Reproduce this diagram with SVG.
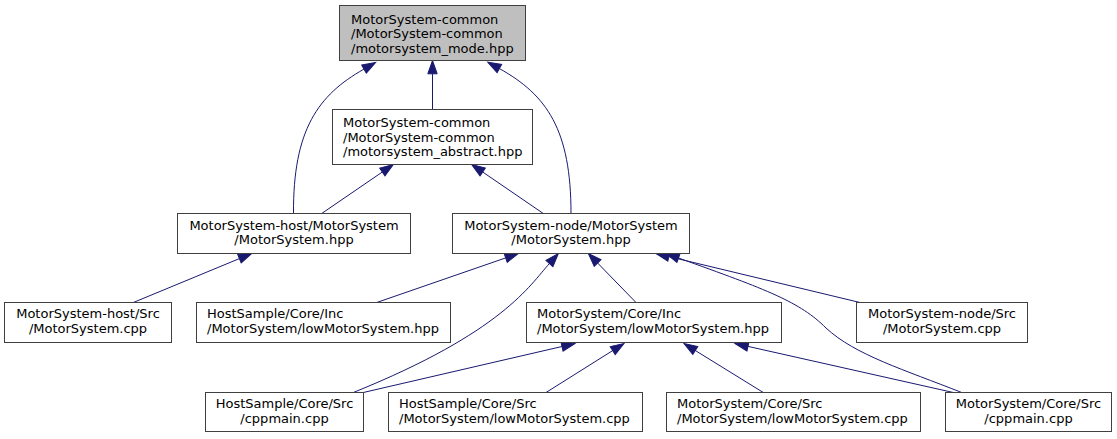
<svg xmlns="http://www.w3.org/2000/svg" width="1117" height="439" viewBox="0 0 1117 439">
<style>
.n rect{fill:#ffffff;stroke:#404040;stroke-width:1}
.n.root rect{fill:#bfbfbf;stroke:#404040}
.n text{font-family:"DejaVu Sans",sans-serif;font-size:13px;fill:#000000}
.c{text-anchor:middle}
.e path{fill:none;stroke:#191970;stroke-width:1;marker-end:url(#ah)}
</style>
<defs>
<marker id="ah" markerUnits="userSpaceOnUse" markerWidth="14" markerHeight="10" refX="0" refY="5" orient="auto" viewBox="0 0 14 10" overflow="visible">
<path d="M0,0.3 L13.3,5 L0,9.7 Z" fill="#191970" stroke="#191970" stroke-width="1"/>
</marker>
</defs>
<rect width="1117" height="439" fill="#ffffff"/>
<g id="edges" class="e">
<path d="M432.5,109.5 L432.5,73.8"/>
<path d="M293.5,213.5 C293,130 318,95 364,69.1"/>
<path d="M571,213.5 C571,130 547,95 499.4,68.6"/>
<path d="M321.7,213.5 L382.3,172"/>
<path d="M543.3,213.5 L482.7,172"/>
<path d="M133.3,302.5 L239.4,258.6"/>
<path d="M376.7,302.5 L505.7,257.9"/>
<path d="M353.3,392.5 C503,332 530,285 549.4,263.5"/>
<path d="M636,302.5 L597.6,263"/>
<path d="M860,302.5 L668.9,256.6"/>
<path d="M961.7,392.5 C905,370 855,355 826,328 C800,302 768,290 678.5,258"/>
<path d="M363.3,392.5 L562,346.5"/>
<path d="M546,392.5 L612.7,350.6"/>
<path d="M763.3,392.5 L695.3,350.5"/>
<path d="M953.3,392.5 L748,346.4"/>
</g>
<g id="node_mode" class="n root">
<rect x="339.5" y="5.5" width="186" height="55"/>
<text x="351" y="23.5">MotorSystem-common</text>
<text x="351" y="38.2">/MotorSystem-common</text>
<text x="351" y="52.8">/motorsystem_mode.hpp</text>
</g>
<g id="node_abstract" class="n">
<rect x="332.5" y="109.5" width="200" height="55"/>
<text x="343" y="127">MotorSystem-common</text>
<text x="343" y="141.7">/MotorSystem-common</text>
<text x="343" y="156.3">/motorsystem_abstract.hpp</text>
</g>
<g id="node_host_hpp" class="n">
<rect x="177.5" y="213.5" width="233" height="40"/>
<text class="c" x="294" y="229.5">MotorSystem-host/MotorSystem</text>
<text class="c" x="294" y="244.2">/MotorSystem.hpp</text>
</g>
<g id="node_node_hpp" class="n">
<rect x="452.5" y="213.5" width="237" height="40"/>
<text class="c" x="571" y="229.5">MotorSystem-node/MotorSystem</text>
<text class="c" x="571" y="244.2">/MotorSystem.hpp</text>
</g>
<g id="node_host_src" class="n">
<rect x="4.5" y="302.5" width="167" height="40"/>
<text class="c" x="88" y="318.3">MotorSystem-host/Src</text>
<text class="c" x="88" y="333">/MotorSystem.cpp</text>
</g>
<g id="node_hs_inc" class="n">
<rect x="196.5" y="302.5" width="254" height="40"/>
<text x="207" y="318.3">HostSample/Core/Inc</text>
<text x="207" y="333">/MotorSystem/lowMotorSystem.hpp</text>
</g>
<g id="node_ms_inc" class="n">
<rect x="526.5" y="302.5" width="255" height="40"/>
<text x="537" y="318.3">MotorSystem/Core/Inc</text>
<text x="537" y="333">/MotorSystem/lowMotorSystem.hpp</text>
</g>
<g id="node_node_src" class="n">
<rect x="856.5" y="302.5" width="171" height="40"/>
<text class="c" x="942" y="318.3">MotorSystem-node/Src</text>
<text class="c" x="942" y="333">/MotorSystem.cpp</text>
</g>
<g id="node_hs_cppmain" class="n">
<rect x="205.5" y="392.5" width="158" height="39"/>
<text class="c" x="284.5" y="407.8">HostSample/Core/Src</text>
<text class="c" x="284.5" y="422.5">/cppmain.cpp</text>
</g>
<g id="node_hs_low" class="n">
<rect x="388.5" y="392.5" width="254" height="39"/>
<text x="399" y="407.8">HostSample/Core/Src</text>
<text x="399" y="422.5">/MotorSystem/lowMotorSystem.cpp</text>
</g>
<g id="node_ms_low" class="n">
<rect x="666.5" y="392.5" width="254" height="39"/>
<text x="677" y="407.8">MotorSystem/Core/Src</text>
<text x="677" y="422.5">/MotorSystem/lowMotorSystem.cpp</text>
</g>
<g id="node_ms_cppmain" class="n">
<rect x="945.5" y="392.5" width="166" height="39"/>
<text class="c" x="1028.5" y="407.8">MotorSystem/Core/Src</text>
<text class="c" x="1028.5" y="422.5">/cppmain.cpp</text>
</g>
</svg>
